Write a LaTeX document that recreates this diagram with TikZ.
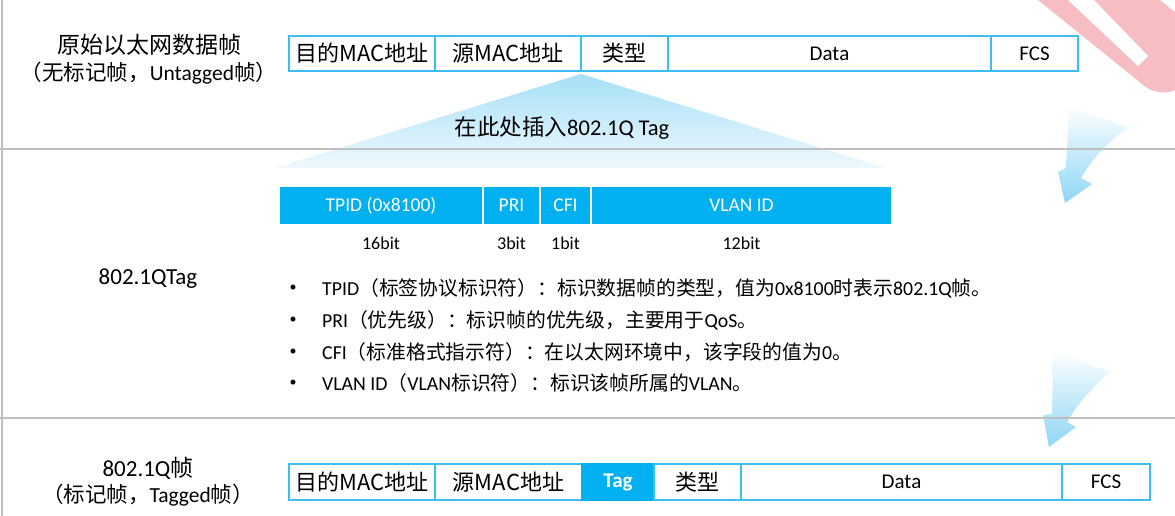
\documentclass[tikz,border=0pt]{standalone}
\usepackage{fontspec}
\setmainfont{Carlito}
\newfontfamily\cjk{Noto Sans CJK SC}
\definecolor{frameblue}{RGB}{60,190,240}
\definecolor{tagblue}{RGB}{0,176,240}
\definecolor{tritop}{RGB}{166,224,247}
\definecolor{tribot}{RGB}{238,249,254}
\definecolor{sepgray}{RGB}{191,191,191}
\definecolor{pinkc}{RGB}{246,190,195}
\definecolor{arrowblue}{RGB}{142,214,245}
\begin{document}
\begin{tikzpicture}[x=1pt,y=-1pt,
  cell/.style={draw=frameblue, line width=2pt, fill=white, minimum height=35pt, inner sep=0pt, outer sep=0pt, font=\fontsize{21}{24}\selectfont},
  cjkcell/.style={cell, font=\cjk\fontsize{22}{25}\selectfont},
  tagcell/.style={draw=white, line width=1.5pt, fill=tagblue, text=white, minimum height=39pt, inner sep=0pt, outer sep=0pt, font=\fontsize{19.5}{22}\selectfont},
  bitlbl/.style={font=\fontsize{18}{20}\selectfont, inner sep=0pt},
  lbl/.style={font=\fontsize{23}{26}\selectfont, inner sep=0pt},
  lblsmall/.style={font=\fontsize{21.5}{24}\selectfont, inner sep=0pt},
  bullettxt/.style={font=\fontsize{19.8}{22}\selectfont, inner sep=0pt, anchor=west},
  bulletdot/.style={font=\fontsize{14}{16}\selectfont, inner sep=0pt},
  sep/.style={draw=sepgray, line width=1.5pt}
]
\useasboundingbox (0,0) rectangle (1175,516);
\fill[white] (0,0) rectangle (1175,516);

% decorative pink arrow (top right)
\fill[pinkc] (1038,0) -- (1142,84) .. controls (1150,92) and (1165,95) .. (1175,90) -- (1175,0) -- cycle;
\fill[white] (1068,0) -- (1138,66) -- (1148,56) -- (1094,0) -- cycle;
\fill[white] (1160,0) -- (1175,0) -- (1175,12) -- cycle;

% insert triangle
\shade[top color=tritop, bottom color=tribot] (581,74) -- (886,168) -- (275,168) -- cycle;

% curved blue arrows
\shade[top color=white, bottom color=arrowblue]
  (1067,105) .. controls (1070,130) and (1066,150) .. (1066,168) -- (1058,172) -- (1065,203)
  -- (1092,184) -- (1081,178) .. controls (1095,155) and (1110,140) .. (1128,128) -- cycle;
\shade[top color=white, bottom color=arrowblue]
  (1050,350) .. controls (1054,375) and (1052,398) .. (1052,414) -- (1043,415) -- (1049,447)
  -- (1076,427) -- (1067,422) .. controls (1080,400) and (1095,385) .. (1110,372) -- cycle;

% separators
\draw[sep] (0,149) -- (1175,149);
\draw[sep] (0,418) -- (1175,418);
\draw[sep] (2,0) -- (2,516);

% top section
\node[lbl] (t1a) at (149,45) {\cjk 原始以太网数据帧};
\node[lblsmall] (t1b) at (149,73) {{\cjk （无标记帧，}Untagged{\cjk 帧）}};

\node[cjkcell, minimum width=146pt] (dmac1) at (362,53.5) {目的MAC地址};
\node[cjkcell, minimum width=146pt] (smac1) at (508,53.5) {源MAC地址};
\node[cjkcell, minimum width=87pt] (type1) at (624.5,53.5) {类型};
\node[cell, minimum width=323pt] (data1) at (829.5,53.5) {Data};
\node[cell, minimum width=87pt] (fcs1) at (1034.5,53.5) {FCS};

\node[font=\fontsize{22.5}{26}\selectfont, inner sep=0pt] (ins) at (562,128) {{\cjk 在此处插入}802.1Q Tag};

% middle section
\node[tagcell, minimum width=204pt] (tpid) at (381,205.5) {TPID (0x8100)};
\node[tagcell, minimum width=57pt] (pri) at (511.5,205.5) {PRI};
\node[tagcell, minimum width=51pt] (cfi) at (565.5,205.5) {CFI};
\node[tagcell, minimum width=301pt] (vid) at (741.5,205.5) {VLAN ID};

\node[bitlbl] (b16) at (381,243) {16bit};
\node[bitlbl] (b3) at (511.5,243) {3bit};
\node[bitlbl] (b1) at (565.5,243) {1bit};
\node[bitlbl] (b12) at (741.5,243) {12bit};

\node[lbl] (qtag) at (148,279) {802.1QTag};

\node[bulletdot] (d1) at (293,288) {\textbullet};
\node[bulletdot] (d2) at (293,320) {\textbullet};
\node[bulletdot] (d3) at (293,352) {\textbullet};
\node[bulletdot] (d4) at (293,383) {\textbullet};
\node[bullettxt] (l1) at (322,288) {TPID{\cjk （标签协议标识符）：}{\cjk 标识数据帧的类型，值为}0x8100{\cjk 时表示}802.1Q{\cjk 帧。}};
\node[bullettxt] (l2) at (322,320) {PRI{\cjk （优先级）：标识帧的优先级，主要用于}QoS{\cjk 。}};
\node[bullettxt] (l3) at (322,352) {CFI{\cjk （标准格式指示符）：在以太网环境中，该字段的值为}0{\cjk 。}};
\node[bullettxt] (l4) at (322,383) {VLAN ID{\cjk （}VLAN{\cjk 标识符）：标识该帧所属的}VLAN{\cjk 。}};

% bottom section
\node[lbl] (t3a) at (148,468) {802.1Q{\cjk 帧}};
\node[lblsmall] (t3b) at (148,495) {{\cjk （标记帧，}Tagged{\cjk 帧）}};

\node[cjkcell, minimum width=146pt, minimum height=36pt] (dmac2) at (362,482) {目的MAC地址};
\node[cjkcell, minimum width=147pt, minimum height=36pt] (smac2) at (508.5,482) {源MAC地址};
\node[cell, minimum width=72pt, minimum height=36pt, fill=tagblue, draw=tagblue, text=white, font=\bfseries\fontsize{21}{24}\selectfont] (tag2) at (618,482) {Tag};
\node[cjkcell, minimum width=87pt, minimum height=36pt] (type2) at (697.5,482) {类型};
\node[cell, minimum width=321pt, minimum height=36pt] (data2) at (901.5,482) {Data};
\node[cell, minimum width=88pt, minimum height=36pt] (fcs2) at (1106,482) {FCS};
\end{tikzpicture}
\end{document}
